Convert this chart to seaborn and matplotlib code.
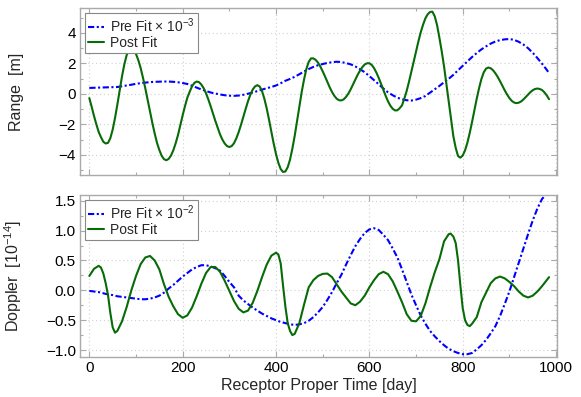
import numpy as np
import pandas as pd
import matplotlib
matplotlib.use("Agg")
import matplotlib.pyplot as plt
from matplotlib.ticker import MultipleLocator, FuncFormatter
import seaborn as sns

# ---------------- data ----------------
days = [0, 10, 20, 30, 40, 50, 60, 70, 80, 90, 100, 110, 120, 130, 140, 150, 160, 170, 180, 190,
        200, 210, 220, 230, 240, 250, 260, 270, 280, 290, 300, 310, 320, 330, 340, 350, 360, 370, 380, 390,
        400, 410, 420, 430, 440, 450, 460, 470, 480, 490, 500, 510, 520, 530, 540, 550, 560, 570, 580, 590,
        600, 610, 620, 630, 640, 650, 660, 670, 680, 690, 700, 710, 720, 730, 740, 750, 760, 770, 780, 790,
        800, 810, 820, 830, 840, 850, 860, 870, 880, 890, 900, 910, 920, 930, 940, 950, 960, 970, 980, 985]

range_post_days = list(range(0, 990, 5))
range_post = [-0.28, -0.85, -1.45, -2.0, -2.5, -2.85, -3.15, -3.26, -3.22, -2.91,
              -2.35, -1.59, -0.71, 0.24, 1.15, 1.94, 2.55, 2.91, 3.0, 2.89,
              2.62, 2.21, 1.69, 1.05, 0.35, -0.40, -1.17, -1.91, -2.60, -3.22,
              -3.69, -4.07, -4.29, -4.36, -4.27, -4.05, -3.70, -3.24, -2.70, -2.05,
              -1.40, -0.80, -0.25, 0.14, 0.49, 0.72, 0.81, 0.77, 0.61, 0.37,
              0.04, -0.37, -0.82, -1.30, -1.78, -2.23, -2.66, -3.00, -3.26, -3.43,
              -3.49, -3.43, -3.24, -2.92, -2.51, -2.03, -1.50, -0.98, -0.48, -0.06,
              0.28, 0.49, 0.57, 0.48, 0.18, -0.32, -0.95, -1.70, -2.49, -3.27,
              -3.96, -4.53, -4.94, -5.13, -5.10, -4.82, -4.32, -3.60, -2.76, -1.79,
              -0.82, 0.12, 0.94, 1.63, 2.10, 2.33, 2.33, 2.23, 2.05, 1.79,
              1.48, 1.14, 0.78, 0.43, 0.12, -0.13, -0.32, -0.42, -0.43, -0.36,
              -0.20, 0.02, 0.30, 0.62, 0.94, 1.26, 1.53, 1.76, 1.93, 2.01,
              2.01, 1.90, 1.69, 1.40, 1.05, 0.66, 0.25, -0.14, -0.50, -0.78,
              -0.98, -1.09, -1.08, -0.94, -0.75, -0.30, 0.20, 0.81, 1.45, 2.12,
              2.79, 3.44, 4.04, 4.54, 4.96, 5.23, 5.38, 5.40, 5.10, 4.52,
              3.69, 2.80, 1.80, 0.65, -0.50, -1.70, -2.80, -3.55, -4.09, -4.19,
              -4.05, -3.71, -3.21, -2.57, -1.85, -1.07, -0.32, 0.37, 0.97, 1.41,
              1.66, 1.73, 1.68, 1.55, 1.35, 1.11, 0.83, 0.53, 0.23, -0.04,
              -0.28, -0.46, -0.57, -0.61, -0.58, -0.50, -0.37, -0.21, -0.05, 0.11,
              0.24, 0.32, 0.35, 0.32, 0.25, 0.10, -0.10, -0.35]

range_pre = [0.39, 0.40, 0.41, 0.42, 0.43, 0.44, 0.45, 0.50, 0.55, 0.60,
             0.66, 0.70, 0.74, 0.77, 0.79, 0.80, 0.81, 0.81, 0.79, 0.76,
             0.71, 0.65, 0.53, 0.41, 0.29, 0.19, 0.09, 0.02, -0.04, -0.09,
             -0.12, -0.13, -0.11, -0.06, 0.01, 0.09, 0.18, 0.28, 0.37, 0.45,
             0.55, 0.70, 0.86, 0.98, 1.12, 1.29, 1.47, 1.63, 1.77, 1.88,
             1.96, 2.03, 2.08, 2.11, 2.09, 2.02, 1.94, 1.80, 1.62, 1.42,
             1.17, 0.90, 0.63, 0.35, 0.10, -0.09, -0.25, -0.36, -0.42, -0.44,
             -0.38, -0.28, -0.14, 0.08, 0.30, 0.52, 0.76, 0.99, 1.25, 1.55,
             1.84, 2.13, 2.42, 2.68, 2.92, 3.12, 3.30, 3.44, 3.53, 3.58,
             3.60, 3.55, 3.42, 3.24, 3.00, 2.70, 2.35, 1.98, 1.58, 1.36]

doppler_pre = [-0.01, -0.02, -0.03, -0.05, -0.07, -0.08, -0.10, -0.11, -0.12, -0.13,
               -0.14, -0.15, -0.15, -0.14, -0.12, -0.09, -0.04, 0.03, 0.09, 0.16,
               0.23, 0.29, 0.35, 0.39, 0.42, 0.42, 0.40, 0.37, 0.33, 0.24,
               0.14, 0.05, -0.09, -0.17, -0.23, -0.29, -0.34, -0.39, -0.43, -0.47,
               -0.50, -0.53, -0.55, -0.57, -0.58, -0.57, -0.55, -0.51, -0.45, -0.37,
               -0.28, -0.16, -0.03, 0.12, 0.26, 0.43, 0.59, 0.74, 0.86, 0.96,
               1.02, 1.04, 1.01, 0.93, 0.84, 0.70, 0.55, 0.35, 0.14, -0.07,
               -0.25, -0.42, -0.56, -0.68, -0.77, -0.85, -0.92, -0.98, -1.02, -1.05,
               -1.07, -1.07, -1.05, -0.99, -0.92, -0.83, -0.72, -0.60, -0.43, -0.23,
               -0.02, 0.22, 0.46, 0.70, 0.94, 1.17, 1.37, 1.53, 1.62, 1.64]

doppler_post_days = [0, 10, 20, 25, 30, 35, 40, 45, 50, 55, 60, 70, 80, 90, 100, 110, 120, 130, 140, 150,
                     160, 170, 180, 190, 200, 210, 220, 230, 240, 250, 260, 270, 280, 290, 300, 310, 320, 330,
                     340, 350, 360, 370, 380, 390, 400, 405, 410, 415, 420, 425, 430, 435, 440, 450, 460, 470,
                     480, 490, 500, 510, 520, 530, 540, 550, 560, 570, 580, 590, 600, 610, 620, 630, 640, 650,
                     660, 670, 680, 690, 700, 710, 720, 730, 740, 750, 760, 770, 774, 780, 785, 790, 795, 800,
                     805, 810, 815, 820, 830, 840, 850, 860, 870, 880, 890, 900, 910, 920, 930, 940, 950, 960,
                     970, 980, 985]
doppler_post = [0.24, 0.36, 0.41, 0.38, 0.28, 0.12, -0.08, -0.38, -0.62, -0.71, -0.68, -0.52, -0.28, 0.0,
                0.24, 0.44, 0.55, 0.575, 0.50, 0.35,
                0.10, -0.11, -0.27, -0.40, -0.46, -0.42, -0.29, -0.10, 0.11, 0.29, 0.39, 0.39, 0.31, 0.16,
                -0.01, -0.18, -0.31, -0.37,
                -0.34, -0.21, -0.01, 0.22, 0.43, 0.58, 0.63, 0.60, 0.45, 0.08, -0.27, -0.55, -0.68, -0.75,
                -0.73, -0.55, -0.24, 0.05,
                0.17, 0.24, 0.275, 0.28, 0.22, 0.10, -0.02, -0.12, -0.22, -0.25, -0.19, -0.09, 0.05, 0.17,
                0.27, 0.31, 0.27, 0.15,
                -0.02, -0.20, -0.40, -0.51, -0.52, -0.43, -0.22, 0.05, 0.30, 0.52, 0.82, 0.94, 0.95, 0.90,
                0.79, 0.50, 0.08, -0.30,
                -0.50, -0.58, -0.60, -0.56, -0.45, -0.20, -0.04, 0.12, 0.20, 0.23, 0.20, 0.14, 0.07, -0.02,
                -0.09, -0.12, -0.09, -0.02,
                0.07, 0.17, 0.22]

x_label = "Receptor Proper Time [day]"
y_labels = ["Range  [m]", "Doppler  [10$^{-14}$]"]
pre_labels = ["Pre Fit × 10$^{-3}$", "Pre Fit × 10$^{-2}$"]
post_label = "Post Fit"

# ---------------- style ----------------
sns.set_style("ticks")
plt.rcParams["font.family"] = ["Liberation Sans", "DejaVu Sans"]
plt.rcParams["mathtext.fontset"] = "custom"
plt.rcParams["mathtext.rm"] = "Liberation Sans"
plt.rcParams["mathtext.it"] = "Liberation Sans:italic"

BLUE = "#0000ff"
GREEN = "#076b07"
SPINE = "#aaaaaa"

fig = plt.figure(figsize=(5.81, 3.97), dpi=100)
ax1 = fig.add_axes([80 / 581, 1 - 175 / 397, 477 / 581, 167 / 397])
ax2 = fig.add_axes([80 / 581, 1 - 357 / 397, 477 / 581, 162 / 397])

df_range_pre = pd.DataFrame({"day": days, "value": range_pre})
df_range_post = pd.DataFrame({"day": range_post_days, "value": range_post})
df_dop_pre = pd.DataFrame({"day": days, "value": doppler_pre})
df_dop_post = pd.DataFrame({"day": doppler_post_days, "value": doppler_post})

panels = [
    (ax1, df_range_pre, df_range_post, pre_labels[0], y_labels[0], (-5.33, 5.64), 2, 1),
    (ax2, df_dop_pre, df_dop_post, pre_labels[1], y_labels[1], (-1.117, 1.596), 0.5, 0.25),
]

for ax, dpre, dpost, plab, ylab, ylim, ymaj, ymin in panels:
    ax.grid(True, which="major", color="#d0d0d0", linestyle=(0, (1, 2.5)), linewidth=0.8)
    ax.set_axisbelow(True)
    sns.lineplot(data=dpre, x="day", y="value", ax=ax, color=BLUE, linewidth=1.5,
                 label=plab, estimator=None, sort=False)
    ax.lines[-1].set_linestyle((0, (3.0, 1.2, 1.0, 1.2)))
    sns.lineplot(data=dpost, x="day", y="value", ax=ax, color=GREEN, linewidth=1.5,
                 label=post_label, estimator=None, sort=False)
    ax.set_xlim(-20, 1002)
    ax.set_ylim(*ylim)
    ax.xaxis.set_major_locator(MultipleLocator(200))
    ax.xaxis.set_minor_locator(MultipleLocator(100))
    ax.yaxis.set_major_locator(MultipleLocator(ymaj))
    ax.yaxis.set_minor_locator(MultipleLocator(ymin))
    ax.tick_params(which="both", direction="in", top=True, right=True, color=SPINE,
                   labelsize=11, labelcolor="black", pad=3)
    ax.tick_params(which="major", length=4, width=0.8)
    ax.tick_params(which="minor", length=2.5, width=0.8)
    for s in ax.spines.values():
        s.set_color(SPINE)
        s.set_linewidth(1.0)
    ax.set_ylabel(ylab, fontsize=11.5)
    ax.yaxis.set_label_coords(-0.117, 0.5)
    ax.set_xlabel("")
    leg = ax.legend(loc="upper left", fontsize=10, frameon=True, fancybox=False,
                    edgecolor="#888888", framealpha=1, borderpad=0.25, labelspacing=0.05,
                    handlelength=1.15, handletextpad=0.4, borderaxespad=0.35)
    leg.get_frame().set_linewidth(0.8)

ax1.tick_params(labelbottom=False)
ax2.set_xlabel(x_label, fontsize=11.5, labelpad=2)
ax2.yaxis.set_major_formatter(FuncFormatter(
    lambda v, p: ("\u2212" if v < -1e-9 else "") + "%.1f" % abs(v)))

fig.savefig("out.png", dpi=100)
